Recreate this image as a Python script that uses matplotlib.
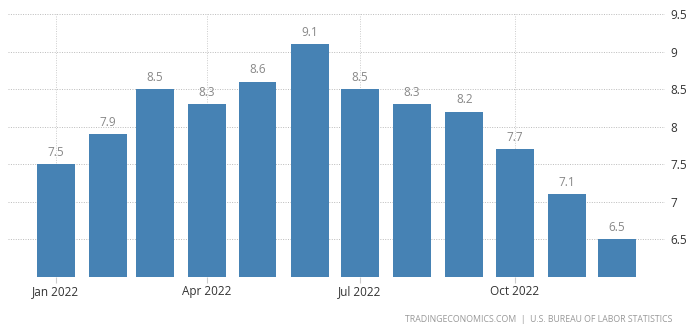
import numpy as np
import pandas as pd
import matplotlib
matplotlib.use("Agg")
import matplotlib.pyplot as plt
import matplotlib.dates as mdates

# US inflation rate 2022 (monthly, %)
months = pd.date_range("2022-01-01", "2022-12-01", freq="MS")
values = [7.5, 7.9, 8.5, 8.3, 8.6, 9.1, 8.5, 8.3, 8.2, 7.7, 7.1, 6.5]
tick_months = ["2022-01-01", "2022-04-01", "2022-07-01", "2022-10-01"]
tick_labels = ["Jan 2022", "Apr 2022", "Jul 2022", "Oct 2022"]
y_ticks = [6.5, 7, 7.5, 8, 8.5, 9, 9.5]
source = "TRADINGECONOMICS.COM  |  U.S. BUREAU OF LABOR STATISTICS"

plt.rcParams['font.family'] = ['Open Sans', 'DejaVu Sans']

fig = plt.figure(figsize=(6.93, 3.30), dpi=100)
ax = fig.add_axes([8 / 693, 53 / 330, 657 / 693, 263 / 330])

bar_color = "#4682b4"
ax.bar(months, values, width=22.5, color=bar_color, zorder=2)

for d, v in zip(months, values):
    ax.annotate(f"{v}", (mdates.date2num(d), v), xytext=(0, 4),
                textcoords="offset points", ha="center", va="bottom",
                fontsize=8.5, color="#888888")

ax.set_ylim(6, 9.5)
ax.set_xlim(mdates.date2num(months[0]) - 28.5, mdates.date2num(months[-1]) + 28.5)

ax.yaxis.tick_right()
ax.set_yticks(y_ticks)
ax.set_yticklabels([f"{t:g}" for t in y_ticks])
ax.set_xticks([mdates.date2num(pd.Timestamp(t)) for t in tick_months])
ax.set_xticklabels(tick_labels)
ax.tick_params(axis="y", length=0, pad=4, labelsize=8.5, labelcolor="#333333")
ax.tick_params(axis="x", length=4, color="#cccccc", pad=2, labelsize=8.5, labelcolor="#333333")

ax.grid(True, axis="y", linestyle=(0, (1, 1.5)), color="#bbbbbb", linewidth=0.7, zorder=0)
ax.grid(True, axis="x", linestyle=(0, (1, 1.5)), color="#cccccc", linewidth=0.7, zorder=0)
ax.axhline(6, linestyle=(0, (1, 1.5)), color="#bbbbbb", linewidth=0.7, zorder=0)
for s in ax.spines.values():
    s.set_visible(False)

fig.text(672 / 693, 11 / 330, source, ha="right", va="center", fontsize=6.3, color="#999999")

fig.savefig("out.png", dpi=100)
